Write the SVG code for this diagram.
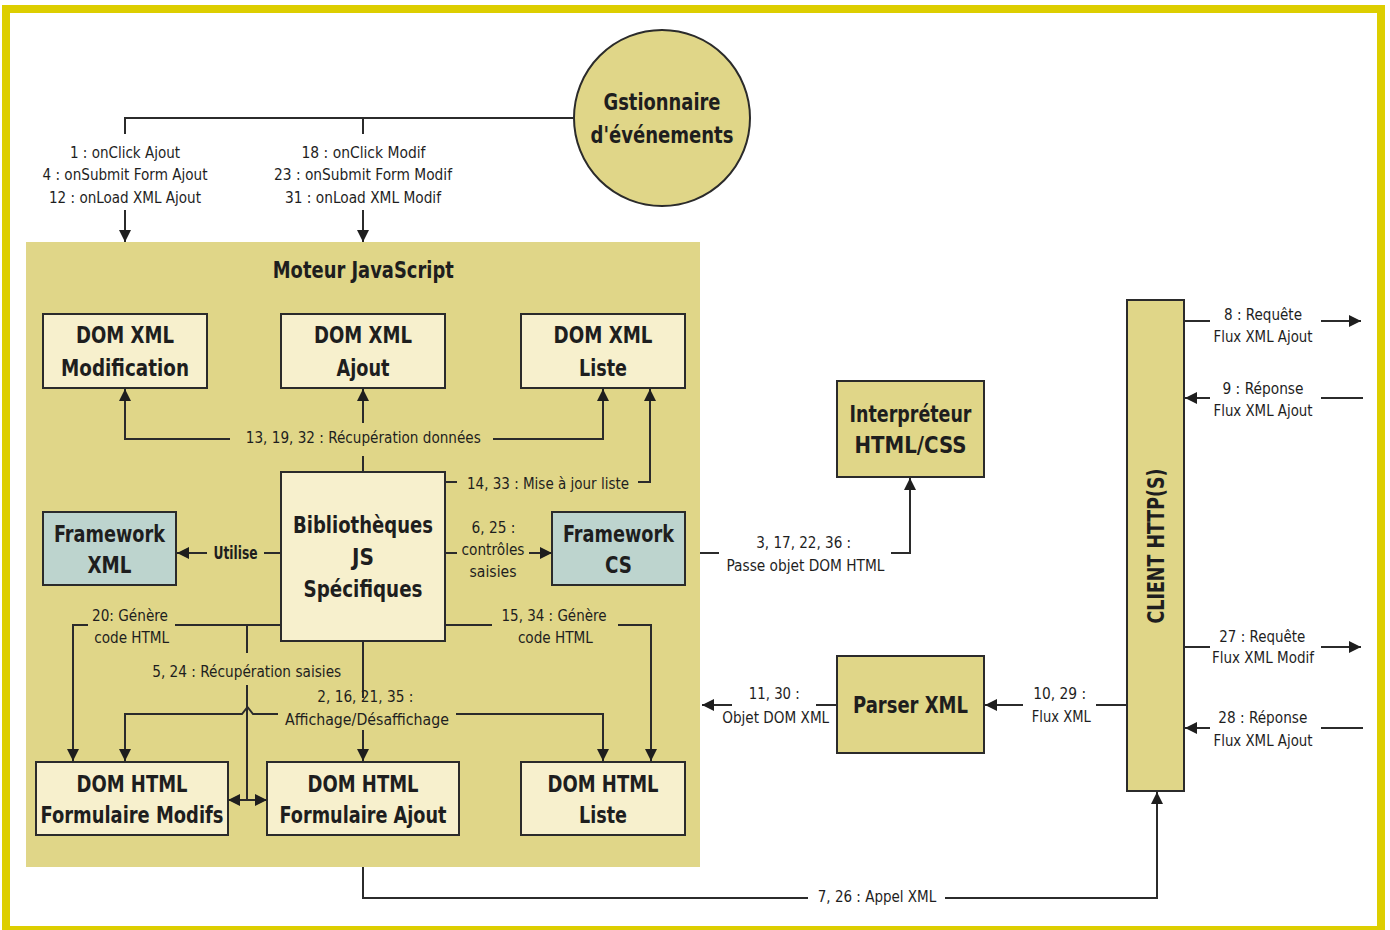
<svg xmlns="http://www.w3.org/2000/svg" width="1390" height="930" viewBox="0 0 1390 930">
<style>
.frame{fill:#ffffff;stroke:#DDCE00;stroke-width:8}
.panel{fill:#E0D688}
.box{fill:#F7F0CD;stroke:#2b2b2b;stroke-width:2}
.fw{fill:#BDD4CE;stroke:#2b2b2b;stroke-width:2}
.ext{fill:#E0D688;stroke:#2b2b2b;stroke-width:2}
.ttl{font-family:"Liberation Sans Narrow","DejaVu Sans Condensed","Liberation Sans",Arial,sans-serif;font-weight:bold;font-size:23px;fill:#1e1e1e;text-anchor:middle}
.lbl{font-family:"Liberation Sans Narrow","DejaVu Sans Condensed","Liberation Sans",Arial,sans-serif;font-size:16.5px;fill:#1e1e1e;text-anchor:middle}
.lblb{font-family:"Liberation Sans Narrow","DejaVu Sans Condensed","Liberation Sans",Arial,sans-serif;font-size:17px;font-weight:bold;fill:#1e1e1e;text-anchor:middle}
.c{fill:none;stroke:#2b2b2b;stroke-width:2}
.a{marker-end:url(#arr)}
</style>
<defs>
<marker id="arr" viewBox="0 0 12 12" refX="12" refY="6" markerWidth="12" markerHeight="12" markerUnits="userSpaceOnUse" orient="auto">
<path d="M0,0 L12,6 L0,12 z" fill="#1e1e1e"/>
</marker>
</defs>
<rect class="frame" x="6" y="9" width="1375" height="921"/>

<g id="moteur-js">
<rect class="panel" x="26" y="242" width="674" height="625"/>
<text class="ttl" x="363.3" y="278" textLength="181" lengthAdjust="spacingAndGlyphs">Moteur JavaScript</text>
</g>

<g id="gestionnaire">
<circle cx="662" cy="118" r="88" fill="#E0D688" stroke="#2b2b2b" stroke-width="2"/>
<text class="ttl" x="662" y="110" font-size="22" textLength="117" lengthAdjust="spacingAndGlyphs">Gstionnaire</text>
<text class="ttl" x="662" y="143" font-size="22" textLength="143" lengthAdjust="spacingAndGlyphs">d'événements</text>
</g>

<g id="dom-xml-modification">
<rect class="box" x="43" y="314" width="164" height="74"/>
<text class="ttl" x="125" y="343" textLength="98" lengthAdjust="spacingAndGlyphs">DOM XML</text>
<text class="ttl" x="125" y="376" textLength="128" lengthAdjust="spacingAndGlyphs">Modification</text>
</g>
<g id="dom-xml-ajout">
<rect class="box" x="281" y="314" width="164" height="74"/>
<text class="ttl" x="363" y="343" textLength="98" lengthAdjust="spacingAndGlyphs">DOM XML</text>
<text class="ttl" x="363" y="376" textLength="53" lengthAdjust="spacingAndGlyphs">Ajout</text>
</g>
<g id="dom-xml-liste">
<rect class="box" x="521" y="314" width="164" height="74"/>
<text class="ttl" x="603" y="343" textLength="99" lengthAdjust="spacingAndGlyphs">DOM XML</text>
<text class="ttl" x="603" y="376" textLength="48" lengthAdjust="spacingAndGlyphs">Liste</text>
</g>

<g id="bibliotheques">
<rect class="box" x="281" y="472" width="164" height="169"/>
<text class="ttl" x="363" y="533" textLength="140" lengthAdjust="spacingAndGlyphs">Bibliothèques</text>
<text class="ttl" x="363" y="565" textLength="22" lengthAdjust="spacingAndGlyphs">JS</text>
<text class="ttl" x="363" y="597" textLength="119" lengthAdjust="spacingAndGlyphs">Spécifiques</text>
</g>

<g id="framework-xml">
<rect class="fw" x="43" y="512" width="133" height="73"/>
<text class="ttl" x="109.5" y="542" textLength="111" lengthAdjust="spacingAndGlyphs">Framework</text>
<text class="ttl" x="109.5" y="573" textLength="44" lengthAdjust="spacingAndGlyphs">XML</text>
</g>
<g id="framework-cs">
<rect class="fw" x="552" y="512" width="133" height="73"/>
<text class="ttl" x="618.5" y="542" textLength="111" lengthAdjust="spacingAndGlyphs">Framework</text>
<text class="ttl" x="618.5" y="573" textLength="27" lengthAdjust="spacingAndGlyphs">CS</text>
</g>

<g id="dom-html-formulaire-modifs">
<rect class="box" x="36" y="762" width="192" height="73"/>
<text class="ttl" x="132" y="792" textLength="111" lengthAdjust="spacingAndGlyphs">DOM HTML</text>
<text class="ttl" x="132" y="823" textLength="183" lengthAdjust="spacingAndGlyphs">Formulaire Modifs</text>
</g>
<g id="dom-html-formulaire-ajout">
<rect class="box" x="267" y="762" width="192" height="73"/>
<text class="ttl" x="363" y="792" textLength="111" lengthAdjust="spacingAndGlyphs">DOM HTML</text>
<text class="ttl" x="363" y="823" textLength="167" lengthAdjust="spacingAndGlyphs">Formulaire Ajout</text>
</g>
<g id="dom-html-liste">
<rect class="box" x="521" y="762" width="164" height="73"/>
<text class="ttl" x="603" y="792" textLength="111" lengthAdjust="spacingAndGlyphs">DOM HTML</text>
<text class="ttl" x="603" y="823" textLength="48" lengthAdjust="spacingAndGlyphs">Liste</text>
</g>

<g id="interpreteur">
<rect class="ext" x="837" y="381" width="147" height="96"/>
<text class="ttl" x="910.5" y="422" textLength="122" lengthAdjust="spacingAndGlyphs">Interpréteur</text>
<text class="ttl" x="910.5" y="453" textLength="112" lengthAdjust="spacingAndGlyphs">HTML/CSS</text>
</g>
<g id="parser-xml">
<rect class="ext" x="837" y="656" width="147" height="97"/>
<text class="ttl" x="910.5" y="713" textLength="115" lengthAdjust="spacingAndGlyphs">Parser XML</text>
</g>
<g id="client-http">
<rect class="ext" x="1127" y="300" width="57" height="491"/>
<text class="ttl" transform="translate(1164,546) rotate(-90)" x="0" y="0" textLength="155" lengthAdjust="spacingAndGlyphs">CLIENT HTTP(S)</text>
</g>

<g id="connectors">
<path class="c" d="M574,118 H125 V134 M363,118 V134"/>
<path class="c a" d="M125,210 V242"/>
<path class="c a" d="M363,210 V242"/>
<path class="c a" d="M230,439 H125 V389"/>
<path class="c" d="M363,472 V456"/>
<path class="c a" d="M363,423 V389"/>
<path class="c a" d="M493,439 H603 V389"/>
<path class="c" d="M445,482 H457"/>
<path class="c a" d="M638,482 H650 V389"/>
<path class="c" d="M281,553 H264"/>
<path class="c a" d="M207,553 H177"/>
<path class="c" d="M445,553 H457"/>
<path class="c a" d="M529,553 H552"/>
<path class="c" d="M700,553 H719"/>
<path class="c a" d="M891,553 H910 V478"/>
<path class="c" d="M445,625 H492"/>
<path class="c a" d="M618,625 H651 V761"/>
<path class="c" d="M281,625 H175"/>
<path class="c a" d="M88,625 H73 V761"/>
<path class="c" d="M247,625 V653 M247,685 V800"/>
<path class="c a" d="M247,800 H228"/>
<path class="c a" d="M247,800 H267"/>
<path class="c a" d="M278,714 H253 L247.5,707 L242,714 H125 V761"/>
<path class="c a" d="M456,714 H603 V761"/>
<path class="c" d="M363,641 V698"/>
<path class="c a" d="M363,730 V761"/>
<path class="c" d="M363,867 V898 H808"/>
<path class="c a" d="M945,898 H1157 V792"/>
<path class="c" d="M1127,705 H1096"/>
<path class="c a" d="M1023,705 H985"/>
<path class="c" d="M837,705 H816"/>
<path class="c a" d="M732,705 H702"/>
<path class="c" d="M1184,321 H1210"/>
<path class="c a" d="M1321,321 H1361"/>
<path class="c" d="M1363,398 H1321"/>
<path class="c a" d="M1210,398 H1185"/>
<path class="c" d="M1184,647 H1210"/>
<path class="c a" d="M1321,647 H1361"/>
<path class="c" d="M1363,728 H1321"/>
<path class="c a" d="M1210,728 H1185"/>

<text class="lbl" font-size="17" x="125" y="158" textLength="110" lengthAdjust="spacingAndGlyphs">1 : onClick Ajout</text>
<text class="lbl" font-size="17" x="125" y="180" textLength="165" lengthAdjust="spacingAndGlyphs">4 : onSubmit Form Ajout</text>
<text class="lbl" font-size="17" x="125" y="203" textLength="152" lengthAdjust="spacingAndGlyphs">12 : onLoad XML Ajout</text>
<text class="lbl" font-size="17" x="363.5" y="158" textLength="124" lengthAdjust="spacingAndGlyphs">18 : onClick Modif</text>
<text class="lbl" font-size="17" x="363" y="180" textLength="178" lengthAdjust="spacingAndGlyphs">23 : onSubmit Form Modif</text>
<text class="lbl" font-size="17" x="363" y="203" textLength="156" lengthAdjust="spacingAndGlyphs">31 : onLoad XML Modif</text>

<text class="lbl" x="363.3" y="443" textLength="235" lengthAdjust="spacingAndGlyphs">13, 19, 32 : Récupération données</text>
<text class="lbl" x="548" y="489" textLength="162" lengthAdjust="spacingAndGlyphs">14, 33 : Mise à jour liste</text>
<text class="lblb" x="235.5" y="559" textLength="44" lengthAdjust="spacingAndGlyphs">Utilise</text>
<text class="lbl" x="493.5" y="533" textLength="44" lengthAdjust="spacingAndGlyphs">6, 25 :</text>
<text class="lbl" x="493" y="555" textLength="63" lengthAdjust="spacingAndGlyphs">contrôles</text>
<text class="lbl" x="493" y="577" textLength="47" lengthAdjust="spacingAndGlyphs">saisies</text>
<text class="lbl" x="803.7" y="548" textLength="95" lengthAdjust="spacingAndGlyphs">3, 17, 22, 36 :</text>
<text class="lbl" x="805.5" y="571" textLength="158" lengthAdjust="spacingAndGlyphs">Passe objet DOM HTML</text>
<text class="lbl" x="554" y="621" textLength="105" lengthAdjust="spacingAndGlyphs">15, 34 : Génère</text>
<text class="lbl" x="555.4" y="643" textLength="75" lengthAdjust="spacingAndGlyphs">code HTML</text>
<text class="lbl" x="130" y="621" textLength="76" lengthAdjust="spacingAndGlyphs">20: Génère</text>
<text class="lbl" x="131.7" y="643" textLength="75" lengthAdjust="spacingAndGlyphs">code HTML</text>
<text class="lbl" x="246.7" y="677" textLength="189" lengthAdjust="spacingAndGlyphs">5, 24 : Récupération saisies</text>
<text class="lbl" x="365.3" y="702" textLength="96" lengthAdjust="spacingAndGlyphs">2, 16, 21, 35 :</text>
<text class="lbl" x="367" y="725" textLength="164" lengthAdjust="spacingAndGlyphs">Affichage/Désaffichage</text>
<text class="lbl" x="774.3" y="699" textLength="51" lengthAdjust="spacingAndGlyphs">11, 30 :</text>
<text class="lbl" x="775.7" y="723" textLength="107" lengthAdjust="spacingAndGlyphs">Objet DOM XML</text>
<text class="lbl" x="1059.7" y="699" textLength="53" lengthAdjust="spacingAndGlyphs">10, 29 :</text>
<text class="lbl" x="1061.3" y="722" textLength="59" lengthAdjust="spacingAndGlyphs">Flux XML</text>
<text class="lbl" x="877" y="902" textLength="118.5" lengthAdjust="spacingAndGlyphs">7, 26 : Appel XML</text>
<text class="lbl" x="1263" y="320" textLength="78" lengthAdjust="spacingAndGlyphs">8 : Requête</text>
<text class="lbl" x="1263" y="342" textLength="99" lengthAdjust="spacingAndGlyphs">Flux XML Ajout</text>
<text class="lbl" x="1263" y="394" textLength="81" lengthAdjust="spacingAndGlyphs">9 : Réponse</text>
<text class="lbl" x="1263" y="416" textLength="99" lengthAdjust="spacingAndGlyphs">Flux XML Ajout</text>
<text class="lbl" x="1262.3" y="642" textLength="86" lengthAdjust="spacingAndGlyphs">27 : Requête</text>
<text class="lbl" x="1263" y="663" textLength="102" lengthAdjust="spacingAndGlyphs">Flux XML Modif</text>
<text class="lbl" x="1262.8" y="723" textLength="89" lengthAdjust="spacingAndGlyphs">28 : Réponse</text>
<text class="lbl" x="1263" y="746" textLength="99" lengthAdjust="spacingAndGlyphs">Flux XML Ajout</text>
</g>
</svg>
